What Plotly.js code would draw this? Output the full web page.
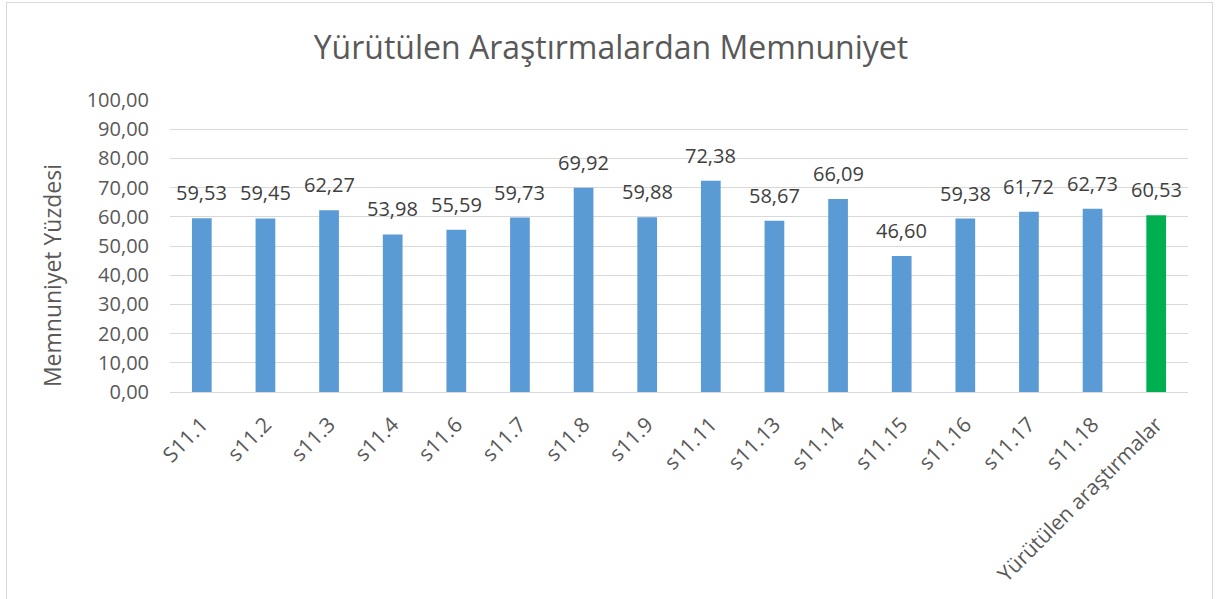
<!DOCTYPE html>
<html><head><meta charset="utf-8">
<script src="https://cdn.plot.ly/plotly-3.0.1.min.js"></script>
<style>
html,body{margin:0;padding:0;background:#fff;}
#wrap{position:relative;width:1217px;height:599px;overflow:hidden;}
#chart{width:1217px;height:599px;}
#frame{position:absolute;left:6px;top:2px;width:1205px;height:640px;border:1px solid #d9d9d9;pointer-events:none;}
</style></head>
<body>
<div id="wrap"><div id="chart"></div><div id="frame"></div></div>
<script>
const categories = ["S11.1","s11.2","s11.3","s11.4","s11.6","s11.7","s11.8","s11.9","s11.11","s11.13","s11.14","s11.15","s11.16","s11.17","s11.18","Yürütülen araştırmalar"];
const values = [59.53,59.45,62.27,53.98,55.59,59.73,69.92,59.88,72.38,58.67,66.09,46.60,59.38,61.72,62.73,60.53];
const yTicks = [0,10,20,30,40,50,60,70,80,90,100];
const fmt = v => v.toFixed(2).replace('.', ',');
const colors = categories.map((c,i)=> i===categories.length-1 ? '#00B050' : '#5B9BD5');
const font = "'Open Sans', sans-serif";
const trace = {
  type:'bar', x:categories, y:values,
  marker:{color:colors},
  hoverinfo:'none'
};
const annotations = categories.map((c,i)=>({
  x:c, y:values[i], xref:'x', yref:'y', text:fmt(values[i]), showarrow:false,
  yanchor:'bottom', yshift:10, font:{family:font,size:20,color:'#404040'}
}));
annotations.push({
  text:'Memnuniyet Yüzdesi', xref:'paper', yref:'paper', x:-0.116, y:0.40,
  xanchor:'center', yanchor:'middle', textangle:-90, showarrow:false,
  font:{family:font,size:23,color:'#595959'}
});
const layout = {
  width:1217, height:599,
  margin:{l:170,r:29,t:100,b:207},
  paper_bgcolor:'#fff', plot_bgcolor:'#fff',
  bargap:0.69,
  showlegend:false,
  font:{family:font,color:'#595959'},
  annotations:annotations,
  title:{text:'Yürütülen Araştırmalardan Memnuniyet', font:{family:font,size:32,color:'#595959'}, x:0.502, xanchor:'center', y:0.921, yanchor:'middle'},
  xaxis:{type:'category', tickangle:-45, tickfont:{family:font,size:21,color:'#595959'}, showline:true, linecolor:'#d9d9d9', linewidth:1, ticks:'', showgrid:false, ticklabelstandoff:11},
  yaxis:{range:[0,100], tickvals:yTicks, ticktext:yTicks.map(fmt), tickfont:{family:font,size:20,color:'#595959'}, showgrid:true, gridcolor:'#d9d9d9', gridwidth:1, zeroline:false, showline:false, ticks:'', ticklen:0, ticklabelstandoff:20}
};
Plotly.newPlot('chart',[trace],layout,{displayModeBar:false,staticPlot:true});
</script>
</body></html>
